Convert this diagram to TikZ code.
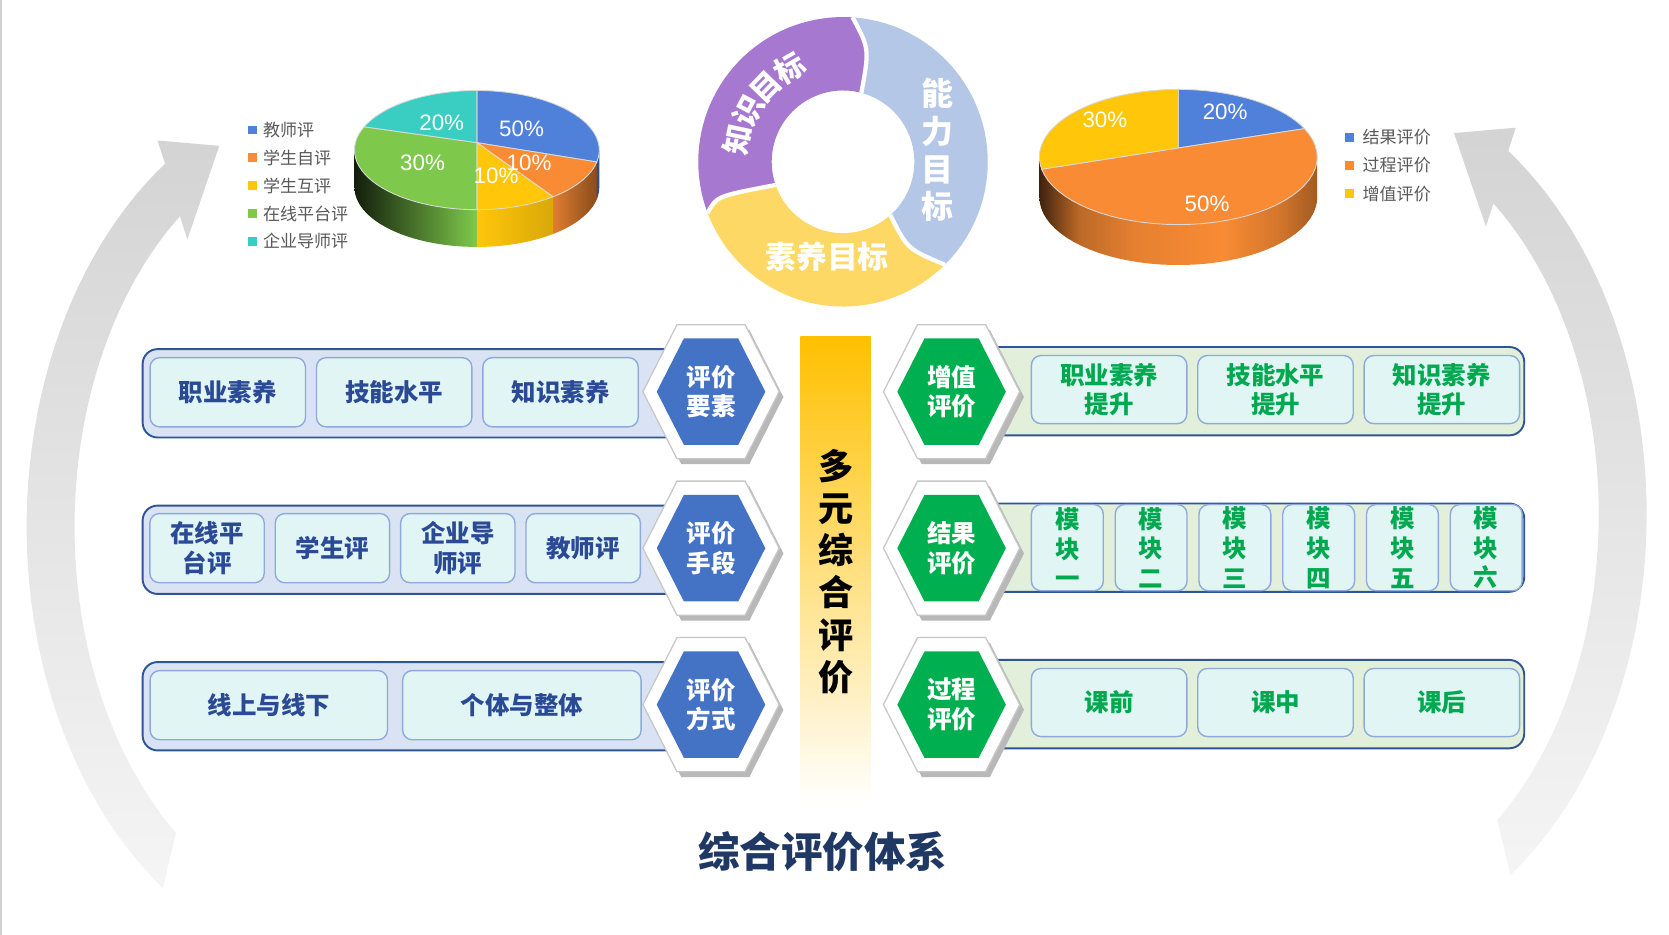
\documentclass[tikz,border=0pt]{standalone}
\usepackage{fontspec}
\setmainfont{Noto Sans CJK SC}
\newfontfamily\arialf{Liberation Sans}
\usetikzlibrary{positioning}
\definecolor{barB}{HTML}{DAE3F3}
\definecolor{barLine}{HTML}{2F5597}
\definecolor{barG}{HTML}{E2EFDA}
\definecolor{boxF}{HTML}{E1F5F4}
\definecolor{boxL}{HTML}{8EA9DB}
\definecolor{navyT}{HTML}{2B4A96}
\definecolor{greenT}{HTML}{00A84F}
\definecolor{hexB}{HTML}{4472C4}
\definecolor{hexG}{HTML}{00B050}
\definecolor{pieB}{HTML}{4F81DB}
\definecolor{pieO}{HTML}{F98B34}
\definecolor{pieY}{HTML}{FFC60A}
\definecolor{pieG}{HTML}{7EC94B}
\definecolor{pieT}{HTML}{3ACDC1}
\definecolor{dnP}{HTML}{A678D0}
\definecolor{dnB}{HTML}{B4C7E7}
\definecolor{dnY}{HTML}{FDD865}
\definecolor{barY}{HTML}{FFC000}
\definecolor{ttl}{HTML}{203864}
\definecolor{lgdT}{HTML}{595959}
\pgfdeclarehorizontalshading{pieOside}{100bp}{color(0bp)=(pieO!25!black); color(25bp)=(pieO!25!black);
  color(32bp)=(pieO!75!black); color(42bp)=(pieO!92!black); color(58bp)=(pieO); color(68bp)=(pieO!85!black);
  color(75bp)=(pieO!65!black); color(100bp)=(pieO!65!black)}

\newcommand\hexpath[4]{({#1-#3},{#2}) -- ({#1-#3/2},{#2-#4}) -- ({#1+#3/2},{#2-#4}) -- ({#1+#3},{#2}) -- ({#1+#3/2},{#2+#4}) -- ({#1-#3/2},{#2+#4}) -- cycle}
\newcommand\grayarc{(148,132) -- (206,137) -- (176,225) -- (169,203)
  -- plot[domain=232.3:128.8, samples=50] ({325+255*cos(\x)},{495+369*sin(\x)})
  -- plot[domain=125:235.5, samples=50] ({325+300*cos(\x)},{495+414*sin(\x)}) -- cycle}

\begin{document}
\begin{tikzpicture}[x=1pt, y=-1pt, node distance=9pt,
  bar/.style={draw=barLine, line width=1.8pt, rounded corners=14pt, fill=barB, minimum height=83pt, inner sep=0pt},
  barg/.style={bar, fill=barG},
  item/.style={draw=boxL, line width=1.3pt, rounded corners=9pt, fill=boxF, minimum height=65pt, inner sep=0pt, align=center, text=navyT, font=\fontsize{23}{28}\selectfont\bfseries},
  itemg/.style={item, minimum height=64pt, text=greenT},
  hexlbl/.style={text=white, align=center, font=\fontsize{23}{28}\selectfont\bfseries},
  pct/.style={text=white, inner sep=0pt, font=\arialf\fontsize{21}{21}\selectfont},
  lgd/.style={text=lgdT, anchor=west, inner sep=0pt, font=\fontsize{16}{16}\selectfont},
  dntxt/.style={text=white, align=center, inner sep=0pt, font=\fontsize{30}{35.5}\selectfont\bfseries}]
\useasboundingbox (0,0) rectangle (1568,878);
\fill[white] (0,0) rectangle (1568,878);
\draw[black!18, line width=2pt] (1,0) -- (1,878);

\shade[top color=black!17, bottom color=black!4] \grayarc;
\begin{scope}[xshift=1572pt, xscale=-1, yshift=12pt]
\shade[top color=black!17, bottom color=black!4] \grayarc;
\end{scope}

\shade[left color=black!85!pieG, right color=pieG] plot[domain=180:90, samples=30] ({448+115*cos(\x)},{141+56*sin(\x)}) -- plot[domain=90:180, samples=30] ({448+115*cos(\x)},{176+56*sin(\x)}) -- cycle;
\shade[left color=pieY, right color=pieY!85!black] plot[domain=90:51.5, samples=20] ({448+115*cos(\x)},{141+56*sin(\x)}) -- plot[domain=51.5:90, samples=20] ({448+115*cos(\x)},{176+56*sin(\x)}) -- cycle;
\shade[left color=pieO!90!black, right color=pieO!55!black] plot[domain=51.5:11.5, samples=20] ({448+115*cos(\x)},{141+56*sin(\x)}) -- plot[domain=11.5:51.5, samples=20] ({448+115*cos(\x)},{176+56*sin(\x)}) -- cycle;
\fill[pieB!60!black] plot[domain=11.5:0, samples=10] ({448+115*cos(\x)},{141+56*sin(\x)}) -- plot[domain=0:11.5, samples=10] ({448+115*cos(\x)},{176+56*sin(\x)}) -- cycle;
\foreach \a/\b/\c in {-90/11.5/pieB, 11.5/51.5/pieO, 51.5/90/pieY, 90/203/pieG, 203/270/pieT}
  \filldraw[fill=\c, draw=white!85!black, line width=0.8pt] (448,134) -- plot[domain=\a:\b, samples=30] ({448+115*cos(\x)},{141+56*sin(\x)}) -- cycle;
\node[pct] (pA1) at (490,121) {50\%};
\node[pct] (pA2) at (497,153) {10\%};
\node[pct] (pA3) at (466,165) {10\%};
\node[pct] (pA4) at (397,153) {30\%};
\node[pct] (pA5) at (415,115) {20\%};
\foreach \c/\t [count=\i] in {pieB/教师评, pieO/学生自评, pieY/学生互评, pieG/在线平台评, pieT/企业导师评} {
  \fill[\c] ({233},{122+26.2*(\i-1)-4}) rectangle ++(8,8);
  \node[lgd] (lgA\i) at (247,{122+26.2*(\i-1)}) {\t};
}

\shade[shading=pieOside] plot[domain=0:180, samples=40] ({1107+130.5*cos(\x)},{147.5+63.5*sin(\x)}) -- plot[domain=180:0, samples=40] ({1107+130.5*cos(\x)},{185.5+63.5*sin(\x)}) -- cycle;
\foreach \a/\b/\c in {-90/-24.8/pieB, -24.8/169.6/pieO, 169.6/270/pieY}
  \filldraw[fill=\c, draw=white!85!black, line width=0.8pt] (1107,139) -- plot[domain=\a:\b, samples=40] ({1107+130.5*cos(\x)},{147.5+63.5*sin(\x)}) -- cycle;
\node[pct] (pB1) at (1151,105) {20\%};
\node[pct] (pB2) at (1038,113) {30\%};
\node[pct] (pB3) at (1134,191) {50\%};
\foreach \c/\t [count=\i] in {pieB/结果评价, pieO/过程评价, pieY/增值评价} {
  \fill[\c] ({1264},{129+26.5*(\i-1)-4}) rectangle ++(8,8);
  \node[lgd] (lgB\i) at (1280,{129+26.5*(\i-1)}) {\t};
}

\fill[dnP] plot[domain=159.3:273.8, samples=40] ({792+136*cos(\x)},{152+136*sin(\x)})
  .. controls (816.8,45.9) .. ({792+67*cos(284.9)},{152+67*sin(284.9)})
  -- plot[domain=284.9:161, samples=40] ({792+67*cos(\x)},{152+67*sin(\x)})
  .. controls (673.2,184.3) .. ({792+136*cos(159.3)},{152+136*sin(159.3)}) -- cycle;
\fill[dnB] plot[domain=273.8:405.3, samples=40] ({792+136*cos(\x)},{152+136*sin(\x)})
  .. controls (852.5,234) .. ({792+67*cos(48.4)},{152+67*sin(48.4)})
  -- plot[domain=408.4:284.9, samples=40] ({792+67*cos(\x)},{152+67*sin(\x)})
  .. controls (816.8,45.9) .. ({792+136*cos(273.8)},{152+136*sin(273.8)}) -- cycle;
\fill[dnY] plot[domain=45.3:159.3, samples=40] ({792+136*cos(\x)},{152+136*sin(\x)})
  .. controls (673.2,184.3) .. ({792+67*cos(161)},{152+67*sin(161)})
  -- plot[domain=161:48.4, samples=40] ({792+67*cos(\x)},{152+67*sin(\x)})
  .. controls (852.5,234) .. ({792+136*cos(45.3)},{152+136*sin(45.3)}) -- cycle;
\draw[white, line width=4pt] ({792+136*cos(273.8)},{152+136*sin(273.8)}) .. controls (816.8,45.9) .. ({792+67*cos(284.9)},{152+67*sin(284.9)});
\draw[white, line width=4pt] ({792+136*cos(45.3)},{152+136*sin(45.3)}) .. controls (852.5,234) .. ({792+67*cos(48.4)},{152+67*sin(48.4)});
\draw[white, line width=4pt] ({792+136*cos(159.3)},{152+136*sin(159.3)}) .. controls (673.2,184.3) .. ({792+67*cos(161)},{152+67*sin(161)});
\foreach \t/\a [count=\i] in {知/168, 识/152, 目/136, 标/120}
  \node[dntxt, font=\fontsize{28}{28}\selectfont\bfseries, rotate=\a-90] (gK\i) at ({792+101*cos(\a)},{152-101*sin(\a)}) {\t};
\node[dntxt] (gN) at (881,141) {能\\力\\目\\标};
\node[dntxt, font=\fontsize{29}{29}\selectfont\bfseries] (gS) at (777,241) {素养目标};

\shade[top color=barY, middle color=barY!45!white, bottom color=white] (752,316) rectangle (818,755);
\node[align=center, font=\fontsize{33}{39.6}\selectfont\bfseries] (dy) at (785,537) {多\\元\\综\\合\\评\\价};

\foreach \y/\nm in {369.5/lA, 516.5/lB, 663.5/lC} \node[bar, minimum width=516pt] (\nm) at (392,\y) {};
\foreach \y/\nm in {367.5/rA, 514.5/rB, 661.5/rC} \node[barg, minimum width=552pt] (\nm) at (1156,\y) {};

\node[item, minimum width=146pt] (a1) at (214,368.5) {职业素养};
\node[item, minimum width=146pt, right=of a1] (a2) {技能水平};
\node[item, minimum width=146pt, right=of a2] (a3) {知识素养};
\node[item, minimum width=107.5pt] (b1) at (194.5,515) {在线平\\台评};
\node[item, minimum width=107.5pt, right=of b1] (b2) {学生评};
\node[item, minimum width=107.5pt, right=of b2] (b3) {企业导\\师评};
\node[item, minimum width=107.5pt, right=of b3] (b4) {教师评};
\node[item, minimum width=223pt] (c1) at (252.5,662.5) {线上与线下};
\node[item, minimum width=224pt, right=13pt of c1] (c2) {个体与整体};

\node[itemg, minimum width=146pt] (d1) at (1042,366) {职业素养\\提升};
\node[itemg, minimum width=146pt, right=of d1] (d2) {技能水平\\提升};
\node[itemg, minimum width=146pt, right=of d2] (d3) {知识素养\\提升};
\foreach \t [count=\i] in {一,二,三,四,五,六}
  \node[itemg, minimum width=67.5pt, minimum height=81pt] (e\i) at ({1002.75+78.7*(\i-1)},514.5) {模\\块\\\t};
\node[itemg, minimum width=146pt] (f1) at (1042,660) {课前};
\node[itemg, minimum width=146pt, right=of f1] (f2) {课中};
\node[itemg, minimum width=146pt, right=of f2] (f3) {课后};

\foreach \y/\nm/\t in {368/hA/{评价\\要素}, 515/hB/{评价\\手段}, 662/hC/{评价\\方式}} {
  \fill[black!28] \hexpath{672}{\y+5}{64}{63};
  \filldraw[fill=white, draw=black!22, line width=1.2pt] \hexpath{668}{\y}{64}{63};
  \fill[hexB] \hexpath{668}{\y}{51}{50};
  \node[hexlbl] (\nm) at (668,\y) {\t};
}
\foreach \y/\nm/\t in {368/hD/{增值\\评价}, 515/hE/{结果\\评价}, 662/hF/{过程\\评价}} {
  \fill[black!28] \hexpath{898}{\y+5}{64}{63};
  \filldraw[fill=white, draw=black!22, line width=1.2pt] \hexpath{894}{\y}{64}{63};
  \fill[hexG] \hexpath{894}{\y}{51}{50};
  \node[hexlbl] (\nm) at (894,\y) {\t};
}

\node[text=ttl, font=\fontsize{39}{39}\selectfont\bfseries] (ttl) at (773,800) {综合评价体系};
\end{tikzpicture}
\end{document}
